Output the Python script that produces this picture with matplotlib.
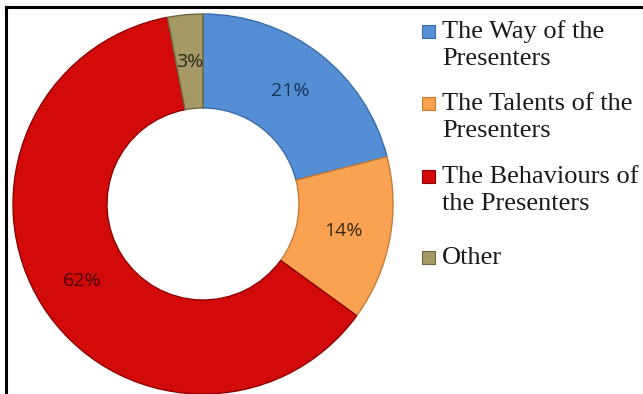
import numpy as np
import matplotlib.pyplot as plt
from matplotlib.lines import Line2D
from matplotlib.patches import Rectangle

# data
labels = ['The Way of the\nPresenters', 'The Talents of the\nPresenters',
          'The Behaviours of\nthe Presenters', 'Other']
shares = [21, 14, 62, 3]
colors = ['#558ED5', '#F9A352', '#D20A0A', '#A59A66']
edges = ['#3B6CA8', '#C77B33', '#8E0000', '#6E6640']
label_colors = ['#17365D', '#3A2A14', '#4A0000', '#2B2A1A']

W, H = 643, 394
fig = plt.figure(figsize=(W / 100, H / 100), dpi=100)
ax = fig.add_axes([0, 0, 1, 1])

cx, cy, R = 203, 190, 190
wedges, texts = ax.pie(shares, colors=colors, startangle=90, counterclock=False,
                       center=(cx, cy), radius=R,
                       wedgeprops=dict(width=94, linewidth=1.0))
for w, ec in zip(wedges, edges):
    w.set_edgecolor(ec)
ax.set_xlim(0, W)
ax.set_ylim(0, H)
ax.set_aspect('equal')
ax.axis('off')

cum = 0
for s, c in zip(shares, label_colors):
    mid = 90 - 360 * (cum + s / 2) / sum(shares)
    cum += s
    r = 143
    ax.text(cx + r * np.cos(np.radians(mid)), cy + r * np.sin(np.radians(mid)),
            f'{s}%', ha='center', va='center', fontsize=14, color=c,
            family='Open Sans')

# frame lines (top and left)
fig.add_artist(Line2D([6, W], [H - 7, H - 7], transform=None, color='black', lw=2.2))
fig.add_artist(Line2D([6, 6], [0, H - 7], transform=None, color='black', lw=2.2))

# legend, drawn by hand (pixel coords from top)
baselines = [38, 110, 183, 264]
for lab, c, e, b in zip(labels, colors, edges, baselines):
    ax.add_patch(Rectangle((422, H - b), 13, 13, facecolor=c, edgecolor=e, lw=0.8))
    for k, line in enumerate(lab.split('\n')):
        ax.text(442, H - b - 27 * k, line, ha='left', va='baseline',
                fontsize=19, family='Liberation Serif', color='#1a1a1a')

fig.savefig('out.png', dpi=100)
